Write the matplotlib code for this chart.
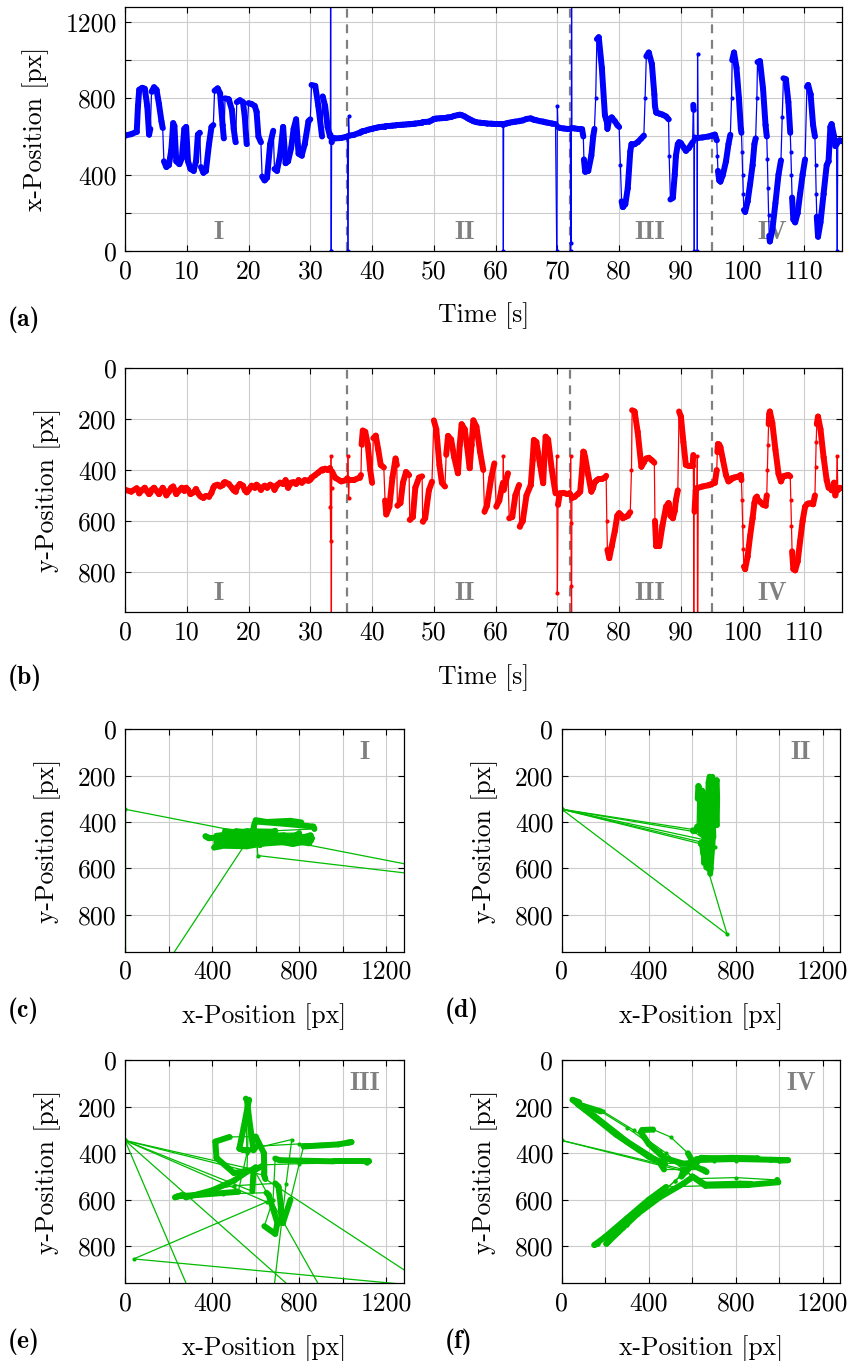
import numpy as np
import matplotlib
matplotlib.use("Agg")
import matplotlib.pyplot as plt
from matplotlib.collections import LineCollection

plt.rcParams["font.family"] = ["cmr10", "DejaVu Serif"]
plt.rcParams["font.size"] = 18.5
plt.rcParams["axes.formatter.use_mathtext"] = True

# phase I  (0 - 36 s)
t1 = [0.0, 1.0, 1.9, 2.1, 2.3, 2.8, 3.2, 3.6, 3.9, 4.1, 4.3, 4.7, 5.1, 5.5, 5.9, 6.1,
      6.3, 6.7, 7.1, 7.5, 7.8, 8.0, 8.3, 8.8, 9.2, 9.6, 9.9, 10.2, 10.6, 11.1, 11.5,
      11.8, 12.1, 12.3, 12.7, 13.1, 13.6, 14.0, 14.3, 14.5, 15.0, 15.4, 15.8, 16.0,
      16.2, 16.8, 17.3, 17.6, 17.9, 18.1, 18.6, 19.1, 19.4, 19.7, 20.0, 20.5, 21.0,
      21.3, 21.6, 22.0, 22.2, 22.6, 23.0, 23.5, 24.0, 24.2, 24.6, 25.1, 25.6, 26.0,
      26.4, 26.9, 27.3, 27.7, 28.1, 28.6, 29.1, 29.7, 30.0, 30.2, 30.8, 31.3, 31.9,
      32.0, 32.4, 32.8, 33.2, 33.25, 33.3, 33.35, 33.4, 33.45, 33.5, 34.0, 35.0, 35.8]
x1 = [605, 612, 625, 760, 845, 855, 850, 760, 610, 640, 835, 858, 845, 770, 680, 645,
      470, 440, 450, 530, 670, 655, 470, 455, 485, 640, 650, 470, 430, 420, 470,
      610, 620, 440, 410, 420, 560, 650, 660, 840, 852, 825, 660, 590,
      800, 795, 740, 640, 570, 780, 790, 780, 700, 560, 775, 770, 760,
      730, 600, 570, 390, 370, 385, 560, 630, 430, 420, 500, 650, 460,
      470, 540, 640, 690, 510, 500, 560, 680, 690, 870, 865, 760, 600,
      810, 760, 650, 600, 610, 1825, 0, 0, 570, 595, 590, 592, 598]
y1 = [478, 485, 472, 480, 492, 478, 470, 485, 495, 490, 478, 470, 482, 495, 480, 470,
      478, 500, 485, 470, 465, 478, 495, 480, 470, 482, 470, 478, 495, 488, 475,
      490, 500, 505, 510, 502, 505, 490, 470, 462, 458, 465, 460, 450,
      448, 455, 470, 480, 485, 470, 455, 462, 480, 488, 478, 462, 470,
      458, 465, 478, 470, 462, 470, 458, 465, 478, 460, 450, 455, 440,
      470, 450, 448, 455, 440, 450, 440, 442, 438, 430, 420, 410, 398,
      402, 395, 400, 392, 545, 680, 345, 1285, 470, 405, 430, 445, 440]

# phase II  (36 - 72 s)
t2 = [36.0, 36.1, 36.2, 36.3, 37.0, 38.0, 38.2, 38.3, 38.5, 38.9, 39.3, 39.7, 40.0,
      40.2, 40.6, 41.0, 41.4, 41.9, 42.1, 42.3, 42.8, 43.3, 43.8, 44.0, 44.1, 44.6,
      45.0, 45.5, 46.0, 46.1, 46.6, 47.0, 47.6, 48.1, 48.2, 48.6, 49.2, 49.7, 50.0,
      50.4, 50.9, 51.3, 51.8, 52.0, 52.3, 52.8, 53.3, 53.9, 54.2, 54.5, 55.0, 55.5,
      55.8, 56.1, 56.4, 56.9, 57.5, 58.0, 58.2, 58.6, 59.3, 59.8, 60.1, 60.6, 61.0,
      61.2, 61.25, 61.3, 61.7, 62.0, 62.2, 62.7, 63.2, 63.8, 63.9, 64.4, 65.0, 65.7,
      66.0, 66.2, 66.6, 67.2, 67.7, 67.9, 68.1, 68.5, 69.1, 69.7, 69.9, 70.0, 70.1,
      70.4, 71.0, 71.6, 71.95]
x2 = [600, 0, 705, 605, 608, 620, 622, 625, 628, 630, 635, 638, 640,
      642, 645, 648, 650, 652, 652, 655, 655, 657, 658, 660, 660, 661,
      662, 663, 664, 664, 666, 668, 670, 672, 675, 676, 678, 685, 692,
      694, 695, 696, 697, 698, 700, 702, 708, 712, 714, 712, 705, 695,
      690, 685, 680, 675, 672, 670, 670, 668, 667, 666, 666, 665, 666,
      660, 0, 665, 668, 670, 672, 675, 678, 680, 682, 684, 692, 695,
      690, 688, 685, 680, 678, 676, 674, 672, 668, 665, 0, 760, 650,
      645, 642, 640, 640]
y2 = [432, 345, 510, 440, 440, 430, 420, 300, 245, 250, 300, 400, 450,
      275, 265, 320, 380, 390, 520, 575, 545, 430, 355, 380, 540, 530,
      450, 408, 420, 596, 585, 470, 430, 425, 603, 590, 480, 446, 205,
      240, 380, 450, 465, 340, 266, 280, 350, 413, 300, 220, 240, 330,
      393, 300, 205, 230, 330, 400, 564, 540, 430, 374, 544, 520, 470,
      450, 345, 479, 440, 413, 590, 585, 500, 459, 623, 600, 500, 459,
      360, 282, 290, 380, 452, 350, 269, 280, 400, 492, 345, 885, 537,
      492, 490, 495, 492]

# phase III  (72 - 95 s)
t3 = [72.1, 72.15, 72.2, 72.25, 72.3, 72.35, 72.8, 73.3, 73.7, 74.0, 74.2, 74.3, 74.5,
      75.0, 75.5, 75.8, 76.0, 76.2, 76.4, 76.7, 77.2, 77.7, 77.9, 78.0, 78.1, 78.4,
      78.8, 79.3, 79.7, 80.0, 80.2, 80.4, 80.6, 81.0, 81.4, 81.8, 82.0, 82.1, 82.5,
      83.0, 83.6, 84.0, 84.2, 84.4, 84.8, 85.3, 85.7, 85.8, 86.0, 86.5, 87.0, 87.6,
      88.0, 88.1, 88.3, 88.7, 89.0, 89.2, 89.5, 89.7, 90.0, 90.4, 90.8, 91.3, 91.9,
      92.0, 92.05, 92.1, 92.15, 92.2, 92.4, 92.6, 92.65, 92.7, 92.8, 93.5, 94.5]
x3 = [638, 0, 650, 40, 1400, 645, 642, 640, 640, 638, 600, 480, 415,
      420, 500, 600, 640, 800, 1110, 1120, 960, 710, 690, 680, 640, 690,
      700, 680, 660, 650, 450, 260, 230, 245, 330, 520, 560, 555, 560,
      570, 590, 605, 800, 1020, 1040, 980, 820, 760, 725, 720, 715, 705,
      690, 500, 270, 280, 400, 500, 560, 570, 565, 545, 525, 540, 570,
      766, 740, 600, 0, 585, 590, 590, 0, 1030, 592, 595, 600]
y3 = [495, 345, 610, 855, 975, 511, 505, 495, 485, 400, 328, 330, 350,
      420, 485, 470, 450, 445, 440, 435, 435, 430, 423, 600, 714, 747,
      700, 640, 580, 570, 575, 580, 590, 585, 580, 566, 400, 165, 170,
      250, 387, 370, 360, 355, 352, 362, 371, 600, 700, 700, 620, 544,
      530, 540, 580, 590, 560, 518, 480, 170, 190, 290, 380, 385, 385,
      341, 531, 1660, 345, 564, 480, 470, 345, 1200, 470, 465, 460]

# phase IV  (95 - 116 s)
t4 = [95.0, 95.5, 95.8, 95.9, 96.0, 96.2, 96.4, 96.8, 97.3, 97.7, 98.0, 98.2, 98.3,
      98.6, 99.0, 99.4, 99.7, 99.8, 99.9, 100.0, 100.1, 100.2, 100.4, 100.8, 101.2,
      101.6, 101.9, 102.1, 102.3, 102.4, 102.8, 103.3, 103.7, 103.9, 104.0, 104.1,
      104.2, 104.3, 104.4, 104.8, 105.3, 105.8, 106.2, 106.4, 106.6, 107.0, 107.4,
      107.7, 107.8, 107.9, 108.0, 108.2, 108.5, 108.9, 109.3, 109.7, 110.1, 110.4,
      110.6, 111.0, 111.4, 111.7, 111.8, 111.9, 112.0, 112.2, 112.6, 113.1, 113.6,
      113.9, 114.2, 114.4, 114.8, 115.0, 115.2, 115.3, 115.4, 115.7, 116.0]
x4 = [605, 610, 580, 500, 420, 370, 364, 400, 470, 560, 609, 800, 1000,
      1040, 960, 800, 640, 620, 520, 400, 300, 215, 205, 260, 350,
      450, 560, 590, 800, 990, 995, 850, 660, 600, 480, 330,
      190, 80, 50, 110, 250, 400, 475, 700, 905, 900, 780,
      620, 520, 400, 280, 165, 150, 200, 300, 400, 480, 860,
      870, 820, 660, 600, 450, 300, 180, 75, 150, 300, 450,
      470, 650, 665, 600, 550, 560, 0, 570, 580, 575]
y4 = [455, 450, 400, 330, 298, 300, 310, 360, 420, 445, 440, 435, 432,
      430, 428, 425, 420, 440, 520, 620, 710, 780, 790, 740, 660,
      590, 530, 510, 505, 515, 525, 537, 540, 500, 400, 300,
      220, 180, 170, 215, 320, 415, 445, 432, 425, 422, 420,
      425, 520, 620, 720, 790, 795, 760, 680, 600, 545, 535,
      532, 531, 535, 500, 390, 290, 220, 190, 240, 350, 440,
      470, 470, 480, 450, 500, 470, 345, 480, 470, 470]

phase_t = [t1, t2, t3, t4]
phase_x = [x1, x2, x3, x4]
phase_y = [y1, y2, y3, y4]
phase_names = ["I", "II", "III", "IV"]
phase_bounds = [36, 72, 95]
phase_label_t = [15.2, 55, 85, 104.8]

t_all = np.concatenate(phase_t)
x_all = np.concatenate(phase_x)
y_all = np.concatenate(phase_y)

BLUE = "#0000ff"
RED = "#ff0000"
GREEN = "#00bb00"
GREY = "#808080"


def track(ax, xs, ys, ts, color):
    """thick where the point moves slowly (dense samples), thin for fast jumps"""
    xs = np.asarray(xs, float)
    ys = np.asarray(ys, float)
    ts = np.asarray(ts, float)
    pix = ax.transData.transform(np.column_stack([xs, ys]))
    speed = np.hypot(*(pix[1:] - pix[:-1]).T) / np.diff(ts)
    widths = np.where(speed > 130, 0.9, 4.3)
    pts = np.column_stack([xs, ys])
    segs = np.stack([pts[:-1], pts[1:]], axis=1)
    lc = LineCollection(segs, colors=color, linewidths=widths, zorder=2.2)
    lc.set_capstyle("round")
    lc.set_joinstyle("round")
    ax.add_collection(lc)
    ax.plot(xs, ys, "o", ms=3, color=color, mec="none", zorder=2.2)


def style(ax):
    ax.set_axisbelow(True)
    ax.grid(True, which="both", color="#cccccc", lw=0.8)
    ax.tick_params(which="both", direction="in", top=True, right=True, length=4,
                   width=0.8, pad=6)
    for s in ax.spines.values():
        s.set_linewidth(0.9)
        s.set_zorder(3)


fig = plt.figure(figsize=(8.52, 13.61), dpi=100)
W, H = 852.0, 1361.0


def add_axes(l, r, top, bot):
    return fig.add_axes([l / W, 1 - bot / H, (r - l) / W, (bot - top) / H])


ax_a = add_axes(125, 841.5, 6.7, 251)
ax_b = add_axes(125, 841.5, 368.3, 612.3)
ax_c = add_axes(125, 403.7, 729.3, 951.7)
ax_d = add_axes(561.7, 840.3, 729.3, 951.7)
ax_e = add_axes(125, 403.7, 1060.3, 1283.3)
ax_f = add_axes(561.7, 840.3, 1060.3, 1283.3)

# time series
for ax, vals, color, ylab in [(ax_a, x_all, BLUE, "x-Position [px]"),
                              (ax_b, y_all, RED, "y-Position [px]")]:
    ax.set_xlim(0, 116)
    ax.set_xticks(range(0, 111, 10))
    ax.set_xticklabels([str(v) for v in range(0, 111, 10)])
    if ax is ax_a:
        ax.set_ylim(0, 1280)
        ax.set_yticks([0, 400, 800, 1200])
        ax.set_yticklabels(["0", "400", "800", "1200"])
        ax.set_yticks([200, 600, 1000], minor=True)
        label_y = 95
    else:
        ax.set_ylim(960, 0)
        ax.set_yticks([0, 200, 400, 600, 800])
        ax.set_yticklabels(["0", "200", "400", "600", "800"])
        label_y = 885
    style(ax)
    ax.set_xlabel("Time [s]", labelpad=14)
    ax.set_ylabel(ylab, labelpad=12)
    for b in phase_bounds:
        ax.axvline(b, color=GREY, lw=1.6, ls=(0, (4, 3)), zorder=2)
    for name, tl in zip(phase_names, phase_label_t):
        ax.text(tl, label_y, name, color=GREY, family="cmb10", ha="center",
                va="center", zorder=1.5)
    track(ax, t_all, vals, t_all, color)

# x-y trajectories per phase
for ax, ts, xs, ys, name in zip([ax_c, ax_d, ax_e, ax_f], phase_t, phase_x,
                                phase_y, phase_names):
    ax.set_xlim(0, 1280)
    ax.set_ylim(960, 0)
    ax.set_xticks([0, 400, 800, 1200])
    ax.set_xticklabels(["0", "400", "800", "1200"])
    ax.set_xticks([200, 600, 1000], minor=True)
    ax.set_yticks([0, 200, 400, 600, 800])
    ax.set_yticklabels(["0", "200", "400", "600", "800"])
    style(ax)
    ax.set_xlabel("x-Position [px]", labelpad=14)
    ax.set_ylabel("y-Position [px]", labelpad=12)
    ax.text(1100, 100, name, color=GREY, family="cmb10", ha="center",
            va="center", zorder=1.5)
    track(ax, xs, ys, ts, GREEN)

for lab, px, py in [("(a)", 8, 320), ("(b)", 8, 678), ("(c)", 8, 1011),
                    ("(d)", 445, 1011), ("(e)", 8, 1342), ("(f)", 445, 1342)]:
    fig.text(px / W, 1 - py / H, lab, family="cmb10", ha="left", va="center")

fig.savefig("out.png", dpi=100)
